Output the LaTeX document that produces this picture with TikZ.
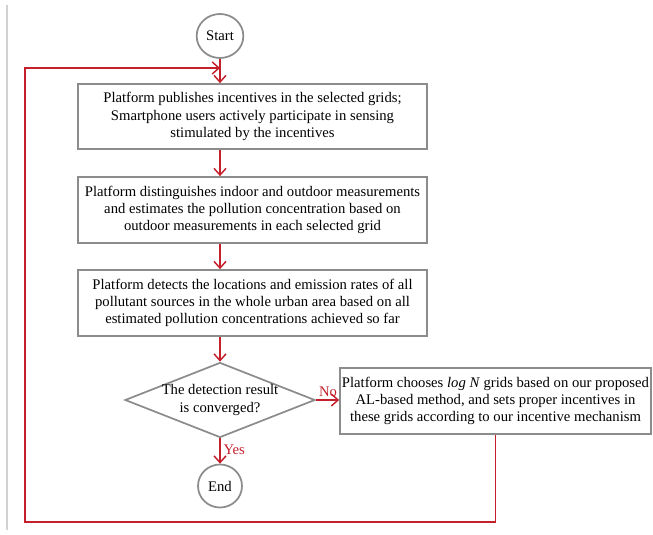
\documentclass[tikz,border=0pt]{standalone}
\usepackage{fontspec}
\setmainfont{Liberation Serif}
\usepackage{tikz}
\usetikzlibrary{arrows.meta, shapes.geometric, positioning}

\definecolor{flowred}{RGB}{196,32,44}
\definecolor{boxgray}{RGB}{140,140,140}

\tikzset{
	stepbox/.style={draw=boxgray, line width=1.3pt, align=center, inner sep=2pt,
		font=\fontsize{11}{13}\selectfont},
	terminal/.style={stepbox, ellipse},
	decision/.style={stepbox, diamond, aspect=2.53, inner sep=-3pt},
	flow/.style={draw=flowred, line width=1.1pt, -{Straight Barb[length=5pt,width=9pt]}},
	flowlabel/.style={text=flowred, font=\fontsize{11}{13}\selectfont, inner sep=1pt}
}

\begin{document}
\begin{tikzpicture}[x=0.75pt, y=-0.75pt]

	% Dimensions
	\def\px{0.75pt}
	\def\mainx{220}
	\def\boxcx{252.5}

	\useasboundingbox (0,0) rectangle (653,535);

	% Page rule
	\draw[gray!35, line width=0.8pt] (7,5) -- (7,530);

	% Start / End
	\node[terminal, minimum width=44*\px, minimum height=44*\px] (start) at (\mainx, 36) {Start};
	\node[terminal, minimum width=44*\px, minimum height=43*\px] (end) at (\mainx, 486) {End};

	% Steps
	\node[stepbox, minimum width=349*\px, minimum height=65*\px] (publish) at (\boxcx, 116.5)
		{Platform publishes incentives in the selected grids;\\
		 Smartphone users actively participate in sensing\\
		 stimulated by the incentives};
	\node[stepbox, minimum width=349*\px, minimum height=66*\px] (estimate) at (\boxcx, 210)
		{Platform distinguishes indoor and outdoor measurements\\
		 and estimates the pollution concentration based on\\
		 outdoor measurements in each selected grid};
	\node[stepbox, minimum width=349*\px, minimum height=66*\px] (detect) at (\boxcx, 303)
		{Platform detects the locations and emission rates of all\\
		 pollutant sources in the whole urban area based on all\\
		 estimated pollution concentrations achieved so far};

	% Decision
	\node[decision, minimum width=190*\px, minimum height=75*\px] (converged) at (\mainx, 400)
		{The detection result\\is converged?};

	% New grids
	\node[stepbox, minimum width=311*\px, minimum height=66*\px, inner sep=0pt] (choose) at (495.5, 401)
		{Platform chooses \textit{log N} grids based on our proposed\\
		 AL-based method, and sets proper incentives in\\
		 these grids according to our incentive mechanism};

	% Main flow
	\draw[flow] (start.south) -- (start.south |- publish.north);
	\draw[flow] (publish.south -| start.south) -- (estimate.north -| start.south);
	\draw[flow] (estimate.south -| start.south) -- (detect.north -| start.south);
	\draw[flow] (detect.south -| start.south) -- (converged.north);
	\draw[flow] (converged.south) -- (end.north);
	\draw[flow] (converged.east) -- (choose.west |- converged.east);

	% Labels
	\node[flowlabel, anchor=south] (no) at (328, 398) {No};
	\node[flowlabel, anchor=west] (yes) at (\mainx+2, 450) {Yes};

	% Loop back
	\coordinate (corner) at (25, 522);
	\coordinate (join) at (\mainx, 68);
	\draw[flow] (choose.south) |- (corner) |- (join);

\end{tikzpicture}
\end{document}
